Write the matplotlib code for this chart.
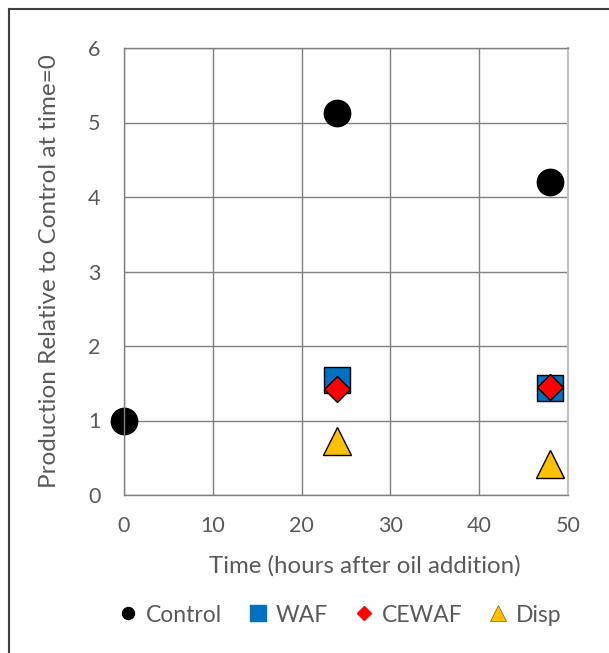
import matplotlib
matplotlib.use("Agg")
import matplotlib.pyplot as plt
from matplotlib.lines import Line2D

plt.rcParams['font.family'] = ['Lato', 'DejaVu Sans']

control_x = [0, 24, 48]
control_y = [1.0, 5.13, 4.2]
waf_x = [24, 48]
waf_y = [1.55, 1.44]
cewaf_x = [24, 48]
cewaf_y = [1.42, 1.45]
disp_x = [24, 48]
disp_y = [0.73, 0.41]

xticks = [0, 10, 20, 30, 40, 50]
yticks = [0, 1, 2, 3, 4, 5, 6]

W, H = 609, 653
fig = plt.figure(figsize=(W/100, H/100), dpi=100)
ax = fig.add_axes([124/W, 1-495/H, (568-124)/W, (495-48)/H])

tc = '#595959'
ax.set_xlim(0, 50)
ax.set_ylim(0, 6)
ax.set_xticks(xticks)
ax.set_yticks(yticks)
ax.grid(True, color='#808080', linewidth=1)
ax.set_axisbelow(True)
for s in ['left', 'top', 'bottom']:
    ax.spines[s].set_color('#808080')
    ax.spines[s].set_linewidth(1)
ax.spines['right'].set_color('#bfbfbf')
ax.spines['right'].set_linewidth(1.5)
ax.tick_params(length=0, colors=tc, labelsize=15.5)
ax.tick_params(axis='y', pad=17)
ax.tick_params(axis='x', pad=15)

kw = dict(linestyle='none', markeredgecolor='black', markeredgewidth=1, clip_on=False)
ax.plot(control_x, control_y, marker='o', markersize=19, color='black', label='Control', **kw)
ax.plot(waf_x, waf_y, marker='s', markersize=19, color='#0070C0', label='WAF', **kw)
ax.plot(cewaf_x, cewaf_y, marker='D', markersize=13.5, color='#FF0000', label='CEWAF', **kw)
ax.plot(disp_x, disp_y, marker='^', markersize=20, color='#FFC000', label='Disp', **kw)

ax.set_xlabel('Time (hours after oil addition)', fontsize=17.3, color=tc, labelpad=14)
ax.xaxis.label.set_x((365 - 124) / (568 - 124))
ax.set_ylabel('Production Relative to Control at time=0', fontsize=17.5, color=tc, labelpad=20)

handles = [
    Line2D([], [], marker='o', markersize=8.6, color='black', linestyle='none'),
    Line2D([], [], marker='s', markersize=11.5, color='#0070C0', linestyle='none', markeredgecolor='#0070C0'),
    Line2D([], [], marker='D', markersize=7.6, color='#FF0000', linestyle='none'),
    Line2D([], [], marker='^', markersize=11.5, color='#FFC000', linestyle='none', markeredgecolor='#7f6000', markeredgewidth=0.5),
]
leg = fig.legend(handles, ['Control', 'WAF', 'CEWAF', 'Disp'], loc='center',
                 bbox_to_anchor=(341/W, 1-615/H), ncol=4, frameon=False,
                 fontsize=16.5, handlelength=0.7, handletextpad=0.42, columnspacing=1.22)
for t in leg.get_texts():
    t.set_color(tc)

# figure border (top and left)
fig.add_artist(Line2D([9/W, 9/W], [0, 1-9/H], color='#404040', linewidth=1.5, transform=fig.transFigure))
fig.add_artist(Line2D([9/W, 1], [1-9/H, 1-9/H], color='#404040', linewidth=1.5, transform=fig.transFigure))

fig.savefig('out.png', dpi=100)
